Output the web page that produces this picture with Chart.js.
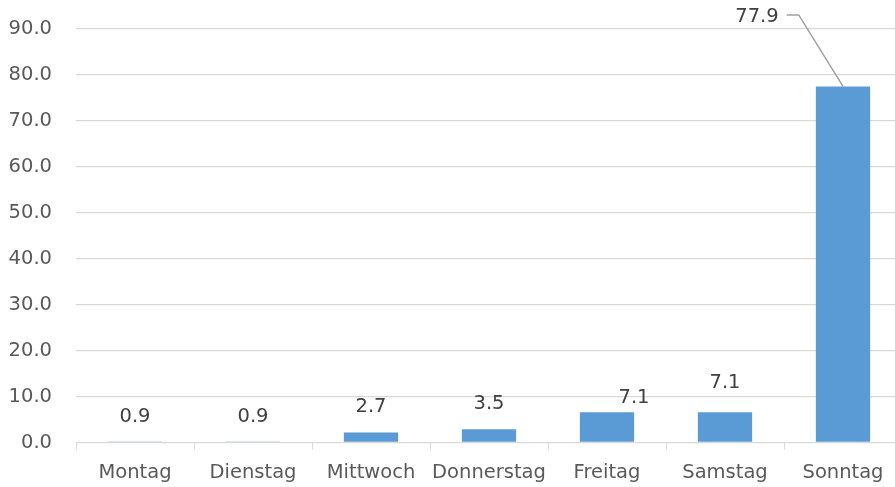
<!DOCTYPE html>
<html>
<head>
<meta charset="utf-8">
<script src="https://cdn.jsdelivr.net/npm/chart.js@4"></script>
<style>
  html, body { margin: 0; padding: 0; background: #fff; overflow: hidden; }
  canvas { display: block; }
</style>
</head>
<body>
<canvas id="dayChart" width="902" height="487"></canvas>
<script>
// data
const days = ['Montag', 'Dienstag', 'Mittwoch', 'Donnerstag', 'Freitag', 'Samstag', 'Sonntag'];
const barValues = [0.1, 0.1, 2.2, 2.9, 6.6, 6.6, 77.4];
const labelValues = [0.9, 0.9, 2.7, 3.5, 7.1, 7.1, 77.9];
const yTicks = [0, 10, 20, 30, 40, 50, 60, 70, 80, 90];

const FONT = "'DejaVu Sans', sans-serif";
const FSIZE = 19.5;

// data labels, some moved by hand like in the original sheet
const labelPlugin = {
  id: 'dayLabels',
  afterDatasetsDraw(chart, args, opts) {
    const ctx = chart.ctx;
    const meta = chart.getDatasetMeta(0);
    ctx.save();
    ctx.font = FSIZE + 'px ' + FONT;
    ctx.fillStyle = '#404040';
    ctx.textAlign = 'center';
    ctx.textBaseline = 'middle';
    meta.data.forEach((bar, i) => {
      const o = opts.moved[i] || {};
      const x = bar.x + (o.dx || 0);
      const y = bar.y - (o.dy !== undefined ? o.dy : opts.gap);
      const txt = labelValues[i].toFixed(1);
      ctx.fillText(txt, x, y);
      if (o.leader) {
        const w = ctx.measureText(txt).width;
        const sx = x + w / 2 + 8;
        ctx.strokeStyle = '#a0a0a0';
        ctx.lineWidth = 1.5;
        ctx.beginPath();
        ctx.moveTo(sx, y - 1.5);
        ctx.lineTo(sx + 12, y - 1.5);
        ctx.lineTo(bar.x, bar.y);
        ctx.stroke();
      }
    });
    ctx.restore();
  }
};

new Chart(document.getElementById('dayChart'), {
  type: 'bar',
  data: {
    labels: days,
    datasets: [{
      data: barValues,
      backgroundColor: '#5b9bd5',
      borderWidth: 0,
      barPercentage: 0.46,
      categoryPercentage: 1
    }]
  },
  options: {
    responsive: false,
    animation: false,
    layout: { padding: { top: 28.5, left: 0, right: 0, bottom: 0 } },
    plugins: {
      legend: { display: false },
      tooltip: { enabled: false },
      dayLabels: {
        gap: 25.5,
        moved: {
          4: { dx: 27, dy: 14 },
          5: { dy: 29 },
          6: { dx: -86, dy: 70, leader: true }
        }
      }
    },
    scales: {
      x: {
        grid: { drawOnChartArea: false, drawTicks: true, tickLength: 7, color: '#d9d9d9', offset: true },
        border: { display: true, color: '#d9d9d9' },
        ticks: { color: '#595959', font: { family: FONT, size: FSIZE }, padding: 12, maxRotation: 0 },
        afterFit(s) { s.height = 44.5; }
      },
      y: {
        min: 0,
        max: 90,
        afterBuildTicks(s) { s.ticks = yTicks.map(v => ({ value: v })); },
        grid: { color: '#d9d9d9', drawTicks: false, lineWidth: 1.3 },
        border: { display: false },
        ticks: {
          color: '#595959',
          font: { family: FONT, size: FSIZE },
          padding: 24,
          callback: v => v.toFixed(1)
        },
        afterFit(s) { s.width = 76; s.paddingTop = 0; s.paddingBottom = 0; }
      }
    }
  },
  plugins: [labelPlugin]
});
</script>
</body>
</html>
